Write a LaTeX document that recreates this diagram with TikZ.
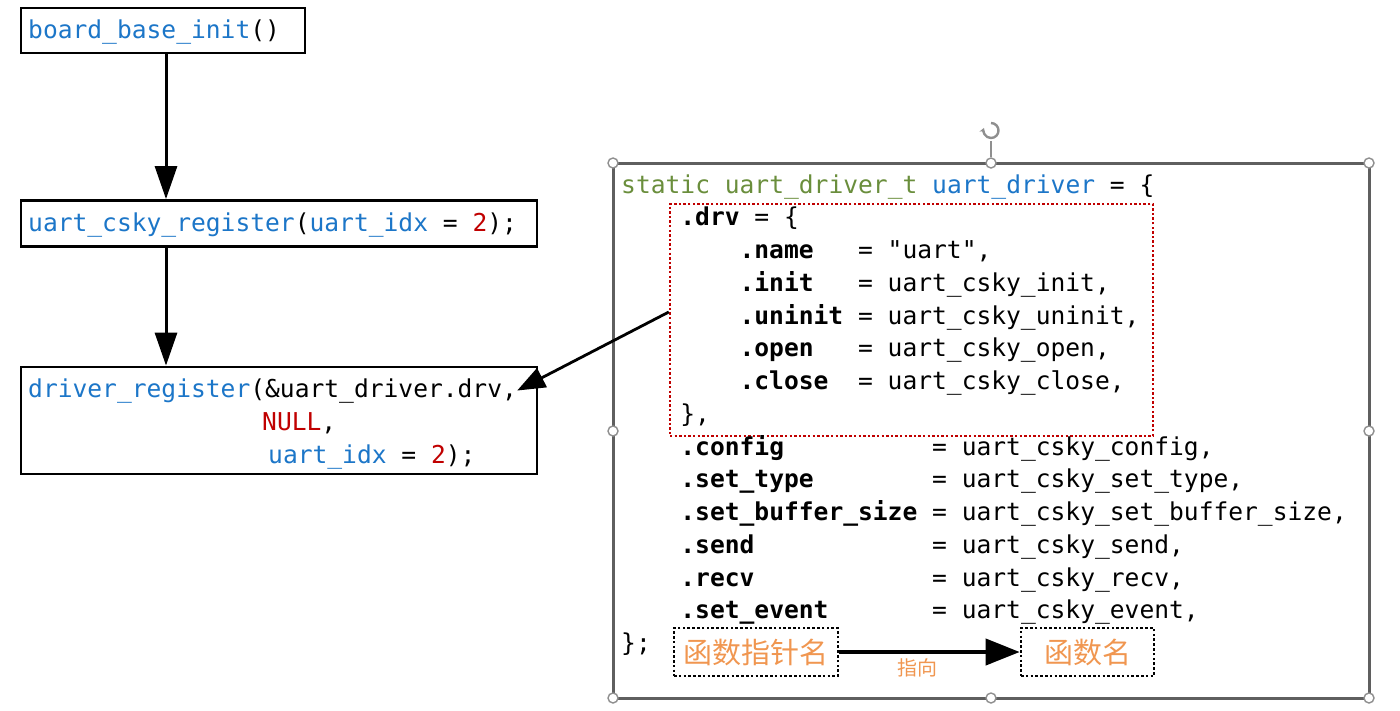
\documentclass[tikz,border=0pt]{standalone}
\usepackage{fontspec}
\setmonofont{DejaVu Sans Mono}
\newfontfamily\cjk{Noto Sans CJK SC}
\usetikzlibrary{arrows.meta}
\definecolor{cblue}{RGB}{28,118,200}
\definecolor{cred}{RGB}{192,0,0}
\definecolor{cgreen}{RGB}{106,142,60}
\definecolor{corange}{RGB}{240,150,80}
\definecolor{cgray}{RGB}{95,95,95}
\tikzset{
  code/.style={anchor=base west, inner sep=0pt, font=\ttfamily\fontsize{24.6}{30}\selectfont},
  solidbox/.style={draw=black, line width=2.8pt, inner sep=0pt},
  dotbox/.style={draw=black, line width=2.6pt, dash pattern=on 2.6pt off 2.2pt, inner sep=0pt},
  redbox/.style={draw=cred, line width=2.4pt, dash pattern=on 2.4pt off 2.2pt, inner sep=0pt},
  bigarr/.style={line width=3pt, -{Triangle[length=33pt,width=22pt]}},
  diagarr/.style={line width=2.8pt, -{Triangle[length=28pt,width=21pt]}},
  legarr/.style={line width=4pt, -{Triangle[length=34pt,width=26pt]}},
  handle/.style={circle, draw=cgray!70, fill=white, line width=1.4pt, minimum size=10pt, inner sep=0pt},
  cjktext/.style={font=\cjk\fontsize{29}{34}\selectfont, text=corange},
}
\begin{document}
\begin{tikzpicture}[x=1pt,y=-1pt]
\useasboundingbox (0,0) rectangle (1400,710);

% ---------- left column ----------
\node[solidbox, minimum width=284pt, minimum height=45pt] (b1) at (163,30.5) {};
\node[solidbox, minimum width=516pt, minimum height=46pt] (b2) at (279,223.5) {};
\node[solidbox, minimum width=516pt, minimum height=107pt] (b3) at (279,420.5) {};

\node[code] (t1) at (28,38) {{\color{cblue}board\_base\_init}()};
\node[code] (t2) at (28,231) {{\color{cblue}uart\_csky\_register}({\color{cblue}uart\_idx} = {\color{cred}2});};
\node[code] (t3a) at (28,397) {{\color{cblue}driver\_register}(\&uart\_driver.drv,};
\node[code] (t3b) at (262,430) {{\color{cred}NULL},};
\node[code] (t3c) at (268,463) {{\color{cblue}uart\_idx} = {\color{cred}2});};

\coordinate (ax) at (166,0);
\draw[bigarr] (b1.south -| ax) -- (b2.north -| ax);
\draw[bigarr] (b2.south -| ax) -- (b3.north -| ax);

% ---------- right panel ----------
\node[draw=cgray, line width=3pt, minimum width=756pt, minimum height=535pt, inner sep=0pt] (panel) at (991,430.5) {};
\node[redbox, minimum width=483pt, minimum height=232pt] (drv) at (911.5,320) {};

\node[code] (r0) at (621,193) {{\color{cgreen}static uart\_driver\_t} {\color{cblue}uart\_driver} = \{};
\node[code] (r1) at (680.2,225.75) {\textbf{.drv} = \{};
\node[code] (r2) at (739.4,258.5) {\textbf{.name}~~~= "uart",};
\node[code] (r3) at (739.4,291.25) {\textbf{.init}~~~= uart\_csky\_init,};
\node[code] (r4) at (739.4,324) {\textbf{.uninit} = uart\_csky\_uninit,};
\node[code] (r5) at (739.4,356.75) {\textbf{.open}~~~= uart\_csky\_open,};
\node[code] (r6) at (739.4,389.5) {\textbf{.close}~~= uart\_csky\_close,};
\node[code] (r7) at (680.2,422.25) {\},};
\node[code] (r8) at (680.2,455) {\textbf{.config}~~~~~~~~~~= uart\_csky\_config,};
\node[code] (r9) at (680.2,487.75) {\textbf{.set\_type}~~~~~~~~= uart\_csky\_set\_type,};
\node[code] (r10) at (680.2,520.5) {\textbf{.set\_buffer\_size} = uart\_csky\_set\_buffer\_size,};
\node[code] (r11) at (680.2,553.25) {\textbf{.send}~~~~~~~~~~~~= uart\_csky\_send,};
\node[code] (r12) at (680.2,586) {\textbf{.recv}~~~~~~~~~~~~= uart\_csky\_recv,};
\node[code] (r13) at (680.2,618.75) {\textbf{.set\_event}~~~~~~~= uart\_csky\_event,};
\node[code] (r14) at (621,651.5) {\};};

% arrow from .drv block to driver_register
\draw[diagarr] ([yshift=8pt]drv.west) -- ([xshift=0pt]t3a.east);

% legend
\node[dotbox, minimum width=164pt, minimum height=48pt, cjktext] (lg1) at (756,652) {函数指针名};
\node[dotbox, minimum width=133pt, minimum height=48pt, cjktext] (lg2) at (1087.5,652) {函数名};
\draw[legarr] (lg1.east) -- (lg2.west)
  node[midway, below=1pt, xshift=-12pt, font=\cjk\fontsize{20}{24}\selectfont, text=corange] (lbl) {指向};

% selection handles
\foreach \p [count=\i] in {(613,163),(991,163),(1369,163),(613,431),(1369,431),(613,698),(991,698),(1369,698)}
  \node[handle] (h\i) at \p {};
\coordinate (rot) at (991,131);
\draw[cgray!70, line width=1.2pt] (h2.north) -- (991,141);
\draw[cgray!70, line width=2.4pt, -{Stealth[length=5pt,width=6pt]}] (991,123) arc[start angle=90, end angle=-200, radius=7.5pt];
\end{tikzpicture}
\end{document}
